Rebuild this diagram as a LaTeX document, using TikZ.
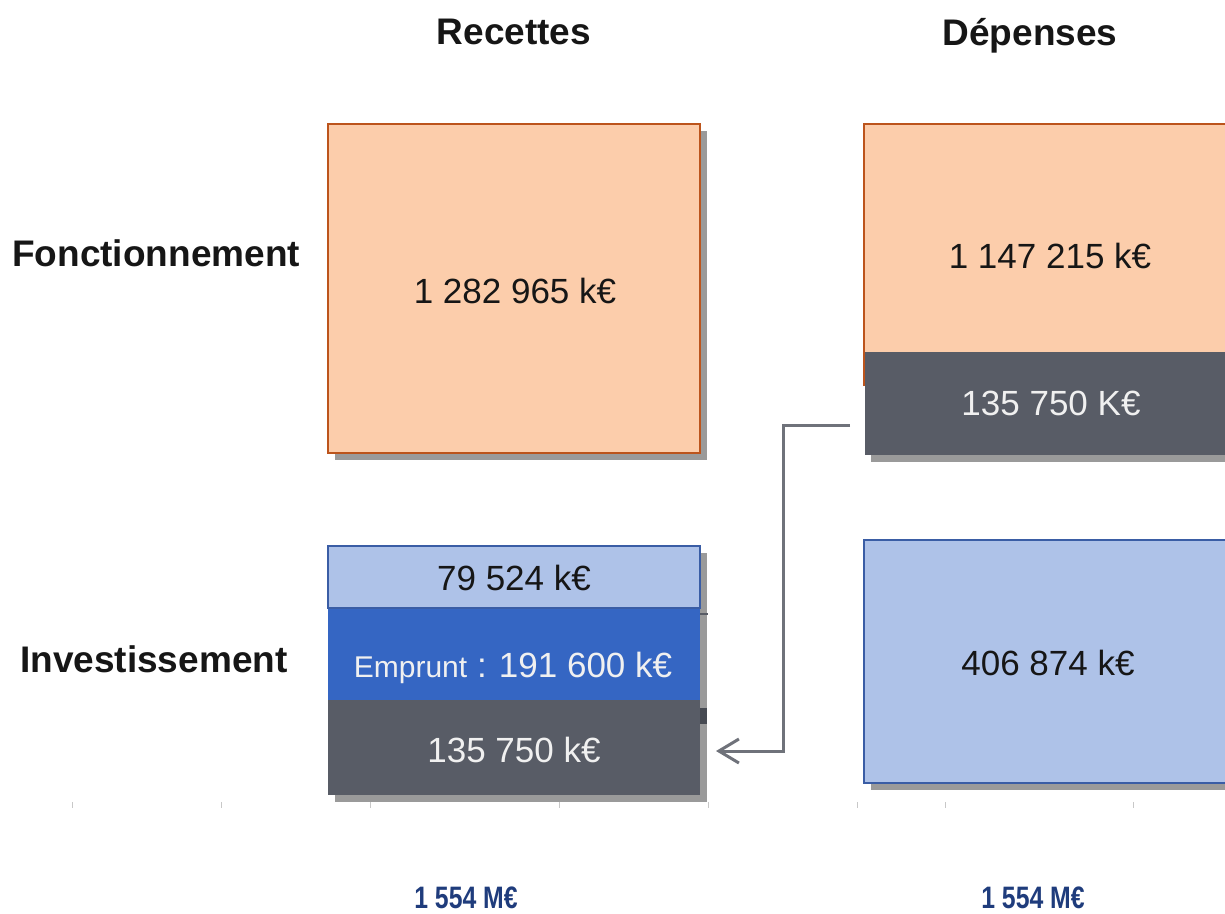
\documentclass[tikz,border=0pt]{standalone}
\usepackage{fontspec}
\setmainfont{Liberation Sans}
\usetikzlibrary{arrows.meta}
\definecolor{peach}{RGB}{252,205,171}
\definecolor{rust}{RGB}{188,84,28}
\definecolor{slate}{RGB}{88,92,102}
\definecolor{lblue}{RGB}{174,194,232}
\definecolor{dblue}{RGB}{58,93,165}
\definecolor{mblue}{RGB}{53,102,195}
\definecolor{shade}{RGB}{154,154,154}
\definecolor{connc}{RGB}{111,114,122}
\definecolor{navy}{RGB}{31,60,124}
\definecolor{ink}{RGB}{22,22,22}
\definecolor{tickc}{RGB}{200,200,200}
\tikzset{
  boxbase/.style={rectangle, inner sep=0pt, outer sep=0pt, anchor=north west},
  peachbox/.style={boxbase, fill=peach, draw=rust, line width=2.8pt},
  bluebox/.style={boxbase, fill=lblue, draw=dblue, line width=2.8pt},
  slatebox/.style={boxbase, fill=slate},
  midbox/.style={boxbase, fill=mblue},
  shadowbox/.style={fill=shade},
  title/.style={font=\bfseries\fontsize{37}{42}\selectfont, text=ink, inner sep=0pt},
  numtxt/.style={font=\fontsize{35}{40}\selectfont, text=ink, inner sep=0pt, anchor=base},
  whitetxt/.style={numtxt, text=white!94!black},
  totaltxt/.style={font=\bfseries\fontsize{31}{36}\selectfont, text=navy, inner sep=0pt, anchor=base},
  conn/.style={draw=connc, line width=3pt, -{Straight Barb[length=20pt,width=24pt,line width=3pt]}},
  tickline/.style={draw=tickc, line width=1pt}
}
\begin{document}
\begin{tikzpicture}[x=1pt,y=-1pt]
\useasboundingbox (0,0) rectangle (1225,913);
\clip (0,0) rectangle (1225,913);

% titles
\node[title, anchor=base] (recettes) at (514,44) {Recettes};
\node[title, anchor=base] (depenses) at (1030,45) {Dépenses};
\node[title, anchor=base west] (fonct) at (12,266) {Fonctionnement};
\node[title, anchor=base west] (invest) at (20,672) {Investissement};

% shadows
\fill[shadowbox] (335,131) rectangle (707,460);
\fill[shadowbox] (871,359) rectangle (1300,462);
\fill[shadowbox] (871,547) rectangle (1300,790);
\fill[shadowbox] (335,553) rectangle (707,802);
\fill[slate!80!black] (700,708) rectangle (707,724);
\draw[slate, line width=1.5pt] (700,614) -- (708,614);

% Recettes fonctionnement
\node[peachbox, minimum width=372pt, minimum height=329pt] (rf) at (328,124) {};
\node[numtxt] (rftxt) at (515,303) {1 282 965 k€};

% Depenses fonctionnement
\node[peachbox, minimum width=420pt, minimum height=261pt] (df) at (864,124) {};
\node[numtxt] (dftxt) at (1050,268) {1 147 215 k€};
\node[slatebox, minimum width=420pt, minimum height=103pt] (dg) at (865,352) {};
\node[whitetxt] (dgtxt) at (1051,415) {135 750 K€};

% Depenses investissement
\node[bluebox, minimum width=420pt, minimum height=243pt] (di) at (864,540) {};
\node[numtxt] (ditxt) at (1048,675) {406 874 k€};

% Recettes investissement stack
\node[midbox, minimum width=372pt, minimum height=92pt] (ri2) at (328,608) {};
\node[slatebox, minimum width=372pt, minimum height=95pt] (ri3) at (328,700) {};
\node[bluebox, minimum width=372pt, minimum height=62pt] (ri1) at (328,546) {};
\node[numtxt] (ri1txt) at (514,590) {79 524 k€};
\node[whitetxt] (ri2txt) at (513,677) {{\fontsize{30}{33}\selectfont Emprunt}\hspace{10pt}:\hspace{12pt}191 600 k€};
\node[whitetxt] (ri3txt) at (514,762) {135 750 k€};

% connector
\coordinate (cstart) at (850,425);
\coordinate (cend) at (716,751);
\draw[conn] (cstart) -- (783,425) |- (cend);

% faint axis ticks
\foreach \tx in {72,221,370,559,708,857,945,1133}
  \draw[tickline] (\tx,802) -- (\tx,808);

% totals
\node[totaltxt] (totr) at (466,908) {\scalebox{0.8}[1]{1 554 M€}};
\node[totaltxt] (totd) at (1033,908) {\scalebox{0.8}[1]{1 554 M€}};
\end{tikzpicture}
\end{document}
